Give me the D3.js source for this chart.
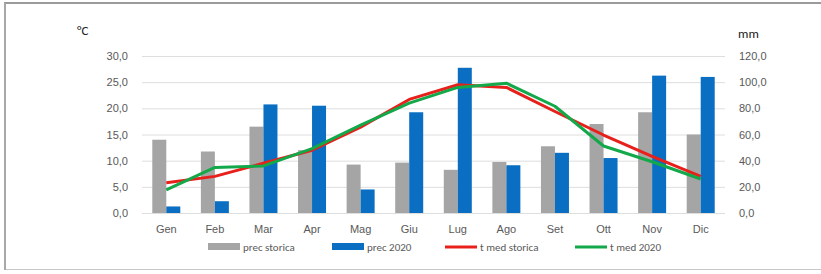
<!DOCTYPE html>
<html>
<head>
<meta charset="utf-8">
<script src="https://cdn.jsdelivr.net/npm/d3@7"></script>
<style>
  html, body { margin: 0; padding: 0; background: #fff; }
  svg { display: block; font-family: Calibri, "Liberation Sans", "Open Sans", sans-serif; }
</style>
</head>
<body>
<svg id="chart" width="821" height="274"></svg>
<script>
// mesi
var months = ["Gen", "Feb", "Mar", "Apr", "Mag", "Giu", "Lug", "Ago", "Set", "Ott", "Nov", "Dic"];
// precipitazioni (mm)
var precStorica = [56, 47, 66, 48, 37, 38.5, 33, 39, 51, 68, 77, 60];
var prec2020 = [5, 9, 83, 82, 18, 77, 111, 36.5, 46, 42, 105, 104];
// temperatura media (°C)
var tStorica = [5.8, 7.0, 9.5, 12.0, 16.4, 21.7, 24.5, 24.0, 19.4, 14.9, 10.8, 7.0];
var t2020 = [4.4, 8.7, 9.0, 12.3, 16.8, 21.0, 24.0, 24.8, 20.4, 12.8, 9.8, 6.5];
// tick
var tempTicks = [0, 5, 10, 15, 20, 25, 30];
var precTicks = [0, 20, 40, 60, 80, 100, 120];

(function() {
  var svg = d3.select("#chart");
  var mLeft = 142, mRight = 725, mTop = 56, mBottom = 213;
  var fmt = function(d) { return d.toFixed(1).replace(".", ","); };
  var textCol = "#595959";

  // cornice
  svg.append("rect").attr("x", 4.5).attr("y", 3.5).attr("width", 830).attr("height", 266)
    .attr("fill", "none").attr("stroke", "#c8c8c8").attr("stroke-width", 1);
  svg.append("line").attr("x1", 4).attr("x2", 821).attr("y1", 3).attr("y2", 3)
    .attr("stroke", "#9a9a9a").attr("stroke-width", 2);
  svg.append("line").attr("x1", 5).attr("x2", 5).attr("y1", 3).attr("y2", 270)
    .attr("stroke", "#a8a8a8").attr("stroke-width", 2);

  var x = d3.scaleBand().domain(months).range([mLeft, mRight]);
  var yT = d3.scaleLinear().domain([0, 30]).range([mBottom, mTop]);
  var yP = d3.scaleLinear().domain([0, 120]).range([mBottom, mTop]);

  // griglia
  svg.append("g").selectAll("line").data(tempTicks).join("line")
    .attr("x1", mLeft).attr("x2", mRight)
    .attr("y1", d => yT(d) + 0.5).attr("y2", d => yT(d) + 0.5)
    .attr("stroke", "#dedede").attr("stroke-width", 1);

  // assi
  var axL = svg.append("g").attr("transform", "translate(" + (mLeft - 6) + ",0)")
    .call(d3.axisLeft(yT).tickValues(tempTicks).tickFormat(fmt).tickSize(0).tickPadding(8));
  var axR = svg.append("g").attr("transform", "translate(" + (mRight + 6) + ",0)")
    .call(d3.axisRight(yP).tickValues(precTicks).tickFormat(fmt).tickSize(0).tickPadding(8));
  var axB = svg.append("g").attr("transform", "translate(0," + mBottom + ")")
    .call(d3.axisBottom(x).tickSize(0).tickPadding(12));
  [axL, axR, axB].forEach(function(a) {
    a.select(".domain").remove();
    a.selectAll("text").attr("fill", textCol).style("font-size", "11px");
  });

  svg.append("text").attr("x", 77).attr("y", 35).attr("fill", "#222").style("font-size", "13px").text("°C");
  svg.append("text").attr("x", 738).attr("y", 38).attr("fill", "#222").style("font-size", "13px").text("mm");

  // barre
  var bw = 14;
  svg.append("g").selectAll("rect").data(precStorica).join("rect")
    .attr("x", (d, i) => x(months[i]) + x.bandwidth() / 2 - bw)
    .attr("y", d => yP(d)).attr("width", bw).attr("height", d => yP(0) - yP(d))
    .attr("fill", "#a5a5a5");
  svg.append("g").selectAll("rect").data(prec2020).join("rect")
    .attr("x", (d, i) => x(months[i]) + x.bandwidth() / 2)
    .attr("y", d => yP(d)).attr("width", bw).attr("height", d => yP(0) - yP(d))
    .attr("fill", "#0a6fc2");

  // linee
  var line = d3.line().x((d, i) => x(months[i]) + x.bandwidth() / 2).y(d => yT(d));
  svg.append("path").datum(tStorica).attr("d", line).attr("fill", "none")
    .attr("stroke", "#e8201c").attr("stroke-width", 3).attr("stroke-linejoin", "round");
  svg.append("path").datum(t2020).attr("d", line).attr("fill", "none")
    .attr("stroke", "#13a84a").attr("stroke-width", 3).attr("stroke-linejoin", "round");

  // legenda
  var legend = [
    { label: "prec storica", color: "#a5a5a5", type: "rect", x: 208 },
    { label: "prec 2020", color: "#0a6fc2", type: "rect", x: 332 },
    { label: "t med storica", color: "#e8201c", type: "line", x: 445 },
    { label: "t med 2020", color: "#13a84a", type: "line", x: 575 }
  ];
  var ly = 247;
  var lg = svg.append("g").selectAll("g").data(legend).join("g");
  lg.filter(d => d.type === "rect").append("rect")
    .attr("x", d => d.x).attr("y", ly - 4).attr("width", 32).attr("height", 7).attr("fill", d => d.color);
  lg.filter(d => d.type === "line").append("line")
    .attr("x1", d => d.x).attr("x2", d => d.x + 32).attr("y1", ly).attr("y2", ly)
    .attr("stroke", d => d.color).attr("stroke-width", 3);
  lg.append("text").attr("x", d => d.x + 35).attr("y", ly + 4)
    .attr("fill", textCol).style("font-size", "11px").text(d => d.label);
})();
</script>
</body>
</html>
